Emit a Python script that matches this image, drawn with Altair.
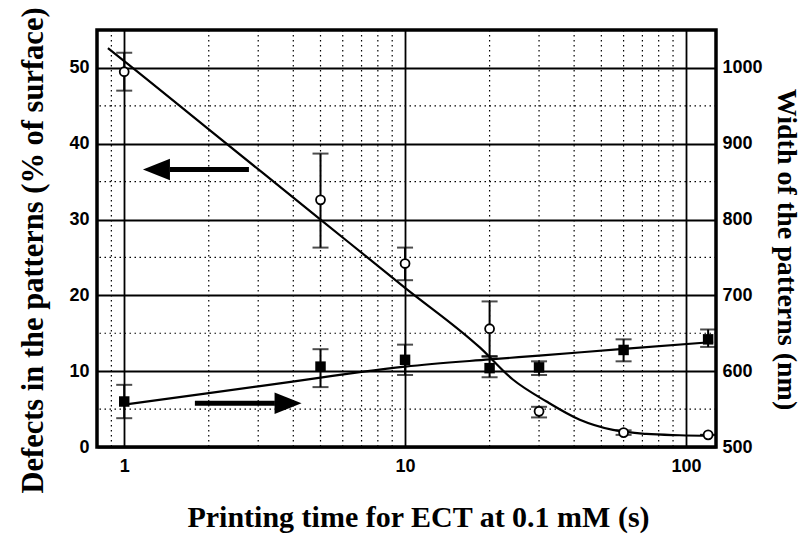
import altair as alt
import pandas as pd

# ---- data ----
t_def = [1, 5, 10, 20, 30, 60, 120]
defects = [49.5, 32.6, 24.2, 15.6, 4.7, 1.9, 1.6]
def_lo = [47.0, 26.3, 22.0, 12.0, 3.9, 1.6, 1.6]
def_hi = [52.0, 38.7, 26.3, 19.2, 5.3, 2.2, 1.6]

t_w = [1, 5, 10, 20, 30, 60, 120]
width_nm = [560, 606, 615, 604, 605, 628, 642]
w_lo = [538, 579, 595, 592, 595, 613, 632]
w_hi = [582, 629, 635, 619, 613, 642, 655]

fit_def_t = [0.875, 1, 2, 5, 10, 18.5, 24.2, 31.9, 41.9, 55, 72.3, 95, 125]
fit_def_y = [52.6, 50.9, 41.9, 30.0, 21.0, 13.1, 8.9, 6.0, 3.6, 2.25, 1.72, 1.55, 1.47]

fit_w_t = [1, 2, 3, 5, 7, 10, 20, 30, 60, 125]
fit_w_y = [556, 571, 580, 591.5, 599, 606, 615.5, 620.5, 629.5, 638.5]

x_major = [1, 10, 100]
x_minor = [0.9, 2, 3, 4, 5, 6, 7, 8, 9, 20, 30, 40, 50, 60, 70, 80, 90]
y_major = [0, 10, 20, 30, 40, 50]
y_minor = [5, 15, 25, 35, 45]
w_ticks = [500, 600, 700, 800, 900, 1000]

# arrows: left-pointing (defects axis) and right-pointing (width axis)
arrow_tail = [2.78, 1.785]
arrow_base = [1.455, 3.44]
arrow_tip = [1.166, 4.28]
arrow_y = [36.6, 5.77]

# ---- frames ----
df_def = pd.DataFrame({"t": t_def, "v": defects, "lo": def_lo, "hi": def_hi})
df_w = pd.DataFrame({"t": t_w, "v": width_nm, "lo": w_lo, "hi": w_hi})
df_def_caps = pd.DataFrame({"t": t_def + t_def, "v": def_lo + def_hi})
df_w_caps = pd.DataFrame({"t": t_w + t_w, "v": w_lo + w_hi})
df_fit_def = pd.DataFrame({"t": fit_def_t, "v": fit_def_y})
df_fit_w = pd.DataFrame({"t": fit_w_t, "v": fit_w_y})
df_xmin = pd.DataFrame({"t": x_minor})
df_ymin = pd.DataFrame({"v": y_minor})
df_arrow = pd.DataFrame({"t": arrow_tip, "base": arrow_base, "tail": arrow_tail, "v": arrow_y})
df_arrow_l = df_arrow.iloc[[0]]
df_arrow_r = df_arrow.iloc[[1]]

XS = alt.Scale(type="log", domain=[0.8, 128], nice=False)
YL = alt.Scale(domain=[0, 55], nice=False, zero=False)
YR = alt.Scale(domain=[500, 1050], nice=False, zero=False)

SANS = "Liberation Sans"
SERIF = "Liberation Serif"

x_axis = alt.Axis(
    values=x_major, grid=True, gridColor="black", gridWidth=1.8, gridOpacity=1,
    domain=False, ticks=False, tickSize=0, labelFont=SANS, labelFontWeight="bold",
    labelFontSize=18, labelColor="black", labelPadding=10, format="d",
    title="Printing time for ECT at 0.1 mM (s)", titleFont=SERIF, titleFontSize=30,
    titleFontWeight="bold", titleColor="black", titleX=321, titleY=79,
    titleBaseline="alphabetic", titleAlign="center",
)
yl_axis = alt.Axis(
    values=y_major, grid=True, gridColor="black", gridWidth=1.8, gridOpacity=1,
    domain=False, ticks=False, tickSize=0, labelFont=SANS, labelFontWeight="bold",
    labelFontSize=18, labelColor="black", labelPadding=8,
    title="Defects in the patterns (% of surface)", titleFont=SERIF, titleFontSize=30.5,
    titleFontWeight="bold", titleColor="black", titleX=-55, titleY=220,
    titleBaseline="alphabetic", titleAlign="center",
)
yr_axis = alt.Axis(
    orient="right", values=w_ticks, grid=False, domain=False, ticks=False, tickSize=0,
    labelFont=SANS, labelFontWeight="bold", labelFontSize=18, labelColor="black",
    labelPadding=6, format="d", title="Width of the patterns (nm)", titleFont=SERIF,
    titleFontSize=28, titleFontWeight="bold", titleColor="black", titleX=61,
    titleY=219, titleBaseline="alphabetic", titleAlign="center",
)

def X(f="t"):
    return alt.X(f, type="quantitative", scale=XS, axis=x_axis)

def YLft(f="v"):
    return alt.Y(f, type="quantitative", scale=YL, axis=yl_axis)

def YRgt(f="v"):
    return alt.Y(f, type="quantitative", scale=YR, axis=yr_axis)

minor_v = alt.Chart(df_xmin).mark_rule(color="black", strokeWidth=1.2, strokeDash=[1.5, 3.5]).encode(
    x=X("t")
)
minor_h = alt.Chart(df_ymin).mark_rule(color="black", strokeWidth=1.2, strokeDash=[1.5, 3.5]).encode(
    y=YLft("v")
)
fit_def = alt.Chart(df_fit_def).mark_line(color="black", strokeWidth=2.2, interpolate="monotone", clip=True).encode(
    x=X("t"), y=YLft("v")
)
def_err = alt.Chart(df_def).mark_rule(color="black", strokeWidth=2).encode(
    x=X("t"), y=YLft("lo"), y2="hi:Q"
)
def_caps = alt.Chart(df_def_caps).mark_tick(color="black", orient="horizontal", size=16, thickness=2).encode(
    x=X("t"), y=YLft("v")
)
def_pts = alt.Chart(df_def).mark_point(
    shape="circle", size=80, filled=True, fill="white", stroke="black", strokeWidth=1.8, opacity=1
).encode(x=X("t"), y=YLft("v"))
shaft_l = alt.Chart(df_arrow_l).mark_rule(color="black", strokeWidth=5).encode(
    x=X("base"), x2="tail:Q", y=YLft("v")
)
head_l = alt.Chart(df_arrow_l).mark_point(
    shape="M0,0L2,-0.8L2,0.8Z", size=729, filled=True, fill="black", strokeWidth=0, opacity=1
).encode(x=X("t"), y=YLft("v"))
shaft_r = alt.Chart(df_arrow_r).mark_rule(color="black", strokeWidth=5).encode(
    x=X("tail"), x2="base:Q", y=YLft("v")
)
head_r = alt.Chart(df_arrow_r).mark_point(
    shape="M0,0L-2,-0.8L-2,0.8Z", size=729, filled=True, fill="black", strokeWidth=0, opacity=1
).encode(x=X("t"), y=YLft("v"))

left = alt.layer(minor_v, minor_h, fit_def, shaft_l, head_l, shaft_r, head_r, def_err, def_caps, def_pts)

fit_w = alt.Chart(df_fit_w).mark_line(color="black", strokeWidth=2.2, interpolate="monotone", clip=True).encode(
    x=X("t"), y=YRgt("v")
)
w_err = alt.Chart(df_w).mark_rule(color="black", strokeWidth=2).encode(
    x=X("t"), y=YRgt("lo"), y2="hi:Q"
)
w_caps = alt.Chart(df_w_caps).mark_tick(color="black", orient="horizontal", size=16, thickness=2).encode(
    x=X("t"), y=YRgt("v")
)
w_pts = alt.Chart(df_w).mark_point(
    shape="square", size=110, filled=True, fill="black", strokeWidth=0, opacity=1
).encode(x=X("t"), y=YRgt("v"))
right = alt.layer(fit_w, w_err, w_caps, w_pts)

chart = (
    alt.layer(left, right)
    .resolve_scale(y="independent")
    .properties(
        width=619, height=417,
        autosize=alt.AutoSizeParams(type="none"),
        padding={"left": 89, "top": 22, "right": 87, "bottom": 90},
        background="white",
    )
    .configure_view(stroke="black", strokeWidth=3.5)
)

chart.save("out.html", embed_options={"renderer": "svg", "actions": False})
